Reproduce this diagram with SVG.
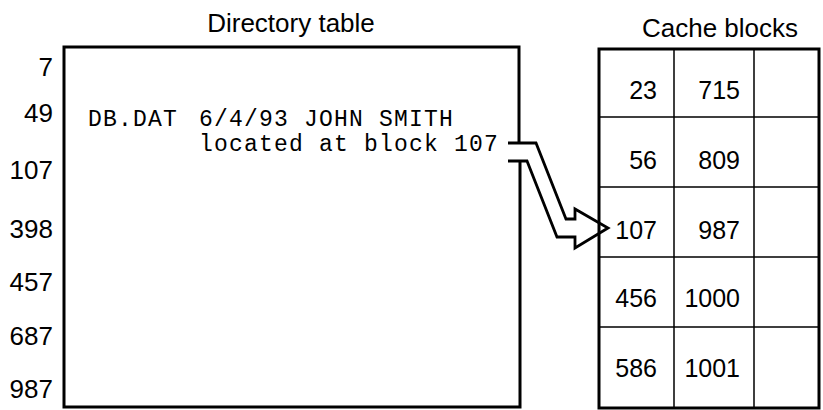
<svg xmlns="http://www.w3.org/2000/svg" width="823" height="410" viewBox="0 0 823 410">
<style>
.lbl{font-family:"Liberation Sans",Arial,sans-serif;font-size:26px;fill:#000}
.num{font-family:"Liberation Sans",Arial,sans-serif;font-size:25px;fill:#000;text-anchor:end}
.mono{font-family:"Liberation Mono","Courier New",monospace;font-size:23px;letter-spacing:1.2px;fill:#000}
.outer{fill:none;stroke:#000;stroke-width:3}
.inner{fill:none;stroke:#000;stroke-width:1.5}
</style>
<rect width="823" height="410" fill="#fff"/>
<g id="directory">
<text class="lbl" x="291" y="32" text-anchor="middle">Directory table</text>
<path class="outer" d="M519,143 V47 H64 V407 H520 V161"/>
<g text-anchor="end">
<text class="lbl" x="53" y="76">7</text>
<text class="lbl" x="53" y="122">49</text>
<text class="lbl" x="53" y="179">107</text>
<text class="lbl" x="53" y="238">398</text>
<text class="lbl" x="53" y="291">457</text>
<text class="lbl" x="53" y="345">687</text>
<text class="lbl" x="53" y="398">987</text>
</g>
<text class="mono" x="88" y="126">DB.DAT</text>
<text class="mono" x="199" y="126">6/4/93 JOHN SMITH</text>
<text class="mono" x="199" y="151">located at block 107</text>
</g>
<g id="cache">
<text class="lbl" x="720" y="37" text-anchor="middle">Cache blocks</text>
<rect class="outer" x="599" y="49" width="220" height="359"/>
<path class="inner" d="M674,49 V408 M754,49 V408 M599,117 H819 M599,187 H819 M599,257 H819 M599,327 H819"/>
<text class="num" x="657" y="99">23</text>
<text class="num" x="740" y="99">715</text>
<text class="num" x="657" y="169">56</text>
<text class="num" x="740" y="169">809</text>
<text class="num" x="657" y="239">107</text>
<text class="num" x="740" y="239">987</text>
<text class="num" x="657" y="307">456</text>
<text class="num" x="740" y="307">1000</text>
<text class="num" x="657" y="377">586</text>
<text class="num" x="740" y="377">1001</text>
</g>
<g id="connectors">
<path fill="none" stroke="#000" stroke-width="2.8" stroke-linejoin="miter" d="M508,143 H536 L566,219 H575 V209 L608,228 L575,248 V237 H557 L527,161 H508"/>
</g>
</svg>
